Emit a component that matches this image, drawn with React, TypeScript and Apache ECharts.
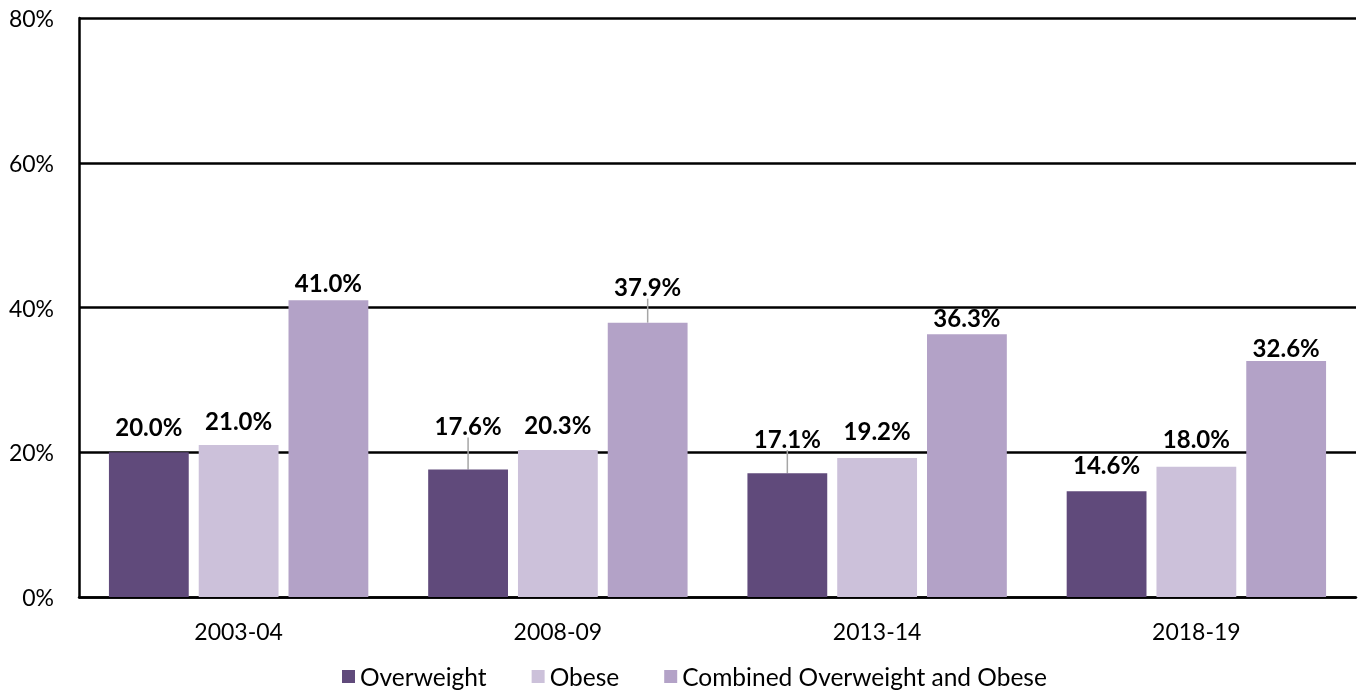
import React, { useEffect, useRef } from "react";
import * as echarts from "echarts";

const categories = ["2003-04", "2008-09", "2013-14", "2018-19"];
const seriesNames = ["Overweight", "Obese", "Combined Overweight and Obese"];
const overweight = [20.0, 17.6, 17.1, 14.6];
const obese = [21.0, 20.3, 19.2, 18.0];
const combined = [41.0, 37.9, 36.3, 32.6];
const yTicks = [0, 20, 40, 60, 80];

// label lift (px) above the default position, per series / category
const labelLift = [
  [8, 26, 17, 9],
  [7, 8, 10, 10],
  [0, 18, -1, -4],
];
// which labels have a leader line
const leader = [
  [false, true, true, false],
  [false, false, false, false],
  [false, true, false, false],
];

const colors = ["#604A7B", "#CCC1DA", "#B3A2C7"];
const FONT = "Lato";

export default function App() {
  const ref = useRef<HTMLDivElement>(null);
  useEffect(() => {
    document.body.style.margin = "0";
    const chart = echarts.init(ref.current!, null, { renderer: "svg" });
    const values = [overweight, obese, combined];
    chart.setOption({
      animation: false,
      textStyle: { fontFamily: FONT },
      grid: { left: 79, right: 3, top: 18, bottom: 94, containLabel: false },
      legend: {
        left: 342,
        top: 664,
        padding: 0,
        itemWidth: 13,
        itemHeight: 13,
        itemGap: 45,
        icon: "rect",
        textStyle: { fontFamily: FONT, fontSize: 24.5, color: "#000" },
        data: seriesNames,
      },
      xAxis: {
        type: "category",
        data: categories,
        axisLine: { show: true, lineStyle: { color: "#000", width: 2.5 } },
        axisTick: { show: false },
        axisLabel: { fontFamily: FONT, fontSize: 23, color: "#000", margin: 22 },
      },
      yAxis: {
        type: "value",
        min: yTicks[0],
        max: yTicks[yTicks.length - 1],
        interval: 20,
        axisLine: { show: true, lineStyle: { color: "#000", width: 2.5 } },
        axisTick: { show: false },
        splitLine: { show: true, lineStyle: { color: "#000", width: 2.5 } },
        axisLabel: {
          fontFamily: FONT,
          fontSize: 23,
          color: "#000",
          margin: 25,
          formatter: (v: number) => `${v}%`,
        },
      },
      series: values.map((arr, si) => ({
        name: seriesNames[si],
        type: "bar",
        barGap: "12.5%",
        barCategoryGap: "18.75%",
        itemStyle: { color: colors[si] },
        label: {
          show: true,
          position: "top",
          distance: 6,
          fontFamily: FONT,
          fontWeight: "bold",
          fontSize: 24,
          color: "#000",
          formatter: (p: any) => `${p.value.toFixed(1)}%`,
        },
        labelLine: { show: false, lineStyle: { color: "#A6A6A6", width: 1 } },
        labelLayout: (p: any) => ({ dy: -labelLift[si][p.dataIndex] }),
        data: arr.map((v, i) => ({
          value: v,
          labelLine: leader[si][i]
            ? { show: true, length2: 0, lineStyle: { color: "#A6A6A6", width: 1.5 } }
            : { show: false },
        })),
      })),
    });
    return () => chart.dispose();
  }, []);
  return (
    <div
      ref={ref}
      style={{ position: "fixed", left: 0, top: 0, width: 1359, height: 691 }}
    />
  );
}
